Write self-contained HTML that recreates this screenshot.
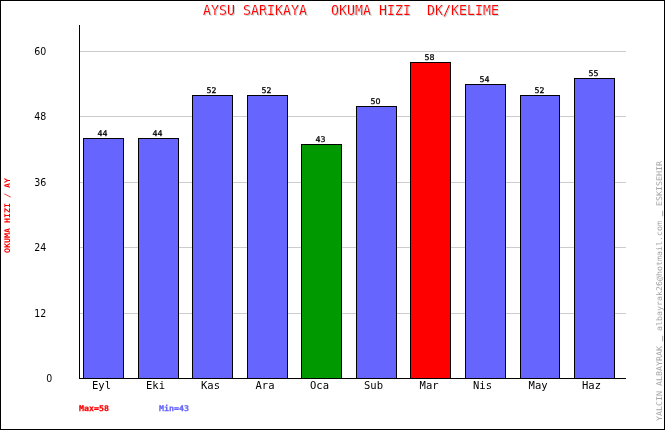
<!DOCTYPE html>
<html lang="tr"><head><meta charset="utf-8"><title>AYSU SARIKAYA OKUMA HIZI DK/KELIME</title>
<style>
html,body{margin:0;padding:0;background:#fff;overflow:hidden}
svg{display:block}
text{font-family:"DejaVu Sans Mono","Liberation Mono",monospace;white-space:pre}
.t2{font-size:13.3px}
.t1{font-size:11px}
.t0{font-size:7.8px}
.d1{font-family:"DejaVu Sans","Liberation Sans",sans-serif;font-size:11px}
.d0{font-family:"DejaVu Sans","Liberation Sans",sans-serif;font-size:7.8px}
</style></head><body>
<svg width="665" height="430" viewBox="0 0 665 430">
<defs><filter id="sh" x="-5%" y="-50%" width="110%" height="200%"><feOffset in="SourceAlpha" dx="1" dy="1" result="o"/><feFlood flood-color="#c4dada"/><feComposite operator="in" in2="o" result="s"/><feMerge><feMergeNode in="s"/><feMergeNode in="SourceGraphic"/></feMerge></filter></defs>
<rect x="0" y="0" width="665" height="430" fill="#fff"/>
<g shape-rendering="crispEdges">
<rect x="0.5" y="0.5" width="664" height="429" fill="none" stroke="#000" stroke-width="1"/>
<rect x="80" y="313" width="546" height="1" fill="#cccccc"/>
<rect x="80" y="247" width="546" height="1" fill="#cccccc"/>
<rect x="80" y="182" width="546" height="1" fill="#cccccc"/>
<rect x="80" y="116" width="546" height="1" fill="#cccccc"/>
<rect x="80" y="51" width="546" height="1" fill="#cccccc"/>
<rect x="83.5" y="138.5" width="40" height="240" fill="#6666ff" stroke="#000" stroke-width="1"/>
<rect x="138.5" y="138.5" width="40" height="240" fill="#6666ff" stroke="#000" stroke-width="1"/>
<rect x="192.5" y="95.5" width="40" height="283" fill="#6666ff" stroke="#000" stroke-width="1"/>
<rect x="247.5" y="95.5" width="40" height="283" fill="#6666ff" stroke="#000" stroke-width="1"/>
<rect x="301.5" y="144.5" width="40" height="234" fill="#009900" stroke="#000" stroke-width="1"/>
<rect x="356.5" y="106.5" width="40" height="272" fill="#6666ff" stroke="#000" stroke-width="1"/>
<rect x="410.5" y="62.5" width="40" height="316" fill="#ff0000" stroke="#000" stroke-width="1"/>
<rect x="465.5" y="84.5" width="40" height="294" fill="#6666ff" stroke="#000" stroke-width="1"/>
<rect x="520.5" y="95.5" width="39" height="283" fill="#6666ff" stroke="#000" stroke-width="1"/>
<rect x="574.5" y="78.5" width="40" height="300" fill="#6666ff" stroke="#000" stroke-width="1"/>
<rect x="79" y="25" width="1" height="354" fill="#000"/>
<rect x="79" y="378" width="547" height="1" fill="#000"/>
</g>
<text class="t2" x="203" y="15" textLength="296" lengthAdjust="spacingAndGlyphs" fill="#ff0000" xml:space="preserve" filter="url(#sh)">AYSU SARIKAYA   OKUMA HIZI  DK/KELIME</text>
<text class="d1" x="34.3" y="317" textLength="12" lengthAdjust="spacingAndGlyphs" fill="#000">12</text>
<text class="d1" x="34.3" y="251" textLength="12" lengthAdjust="spacingAndGlyphs" fill="#000">24</text>
<text class="d1" x="34.3" y="186" textLength="12" lengthAdjust="spacingAndGlyphs" fill="#000">36</text>
<text class="d1" x="34.3" y="120" textLength="12" lengthAdjust="spacingAndGlyphs" fill="#000">48</text>
<text class="d1" x="34.3" y="55" textLength="12" lengthAdjust="spacingAndGlyphs" fill="#000">60</text>
<text class="d1" x="46.3" y="382" textLength="6" lengthAdjust="spacingAndGlyphs" fill="#000">0</text>
<text class="t1" x="92" y="389" textLength="19" lengthAdjust="spacingAndGlyphs" fill="#000">Eyl</text>
<text class="d0" x="97.5" y="136" textLength="10" lengthAdjust="spacingAndGlyphs" fill="#000" stroke="#000" stroke-width="0.3">44</text>
<text class="t1" x="146" y="389" textLength="19" lengthAdjust="spacingAndGlyphs" fill="#000">Eki</text>
<text class="d0" x="152.5" y="136" textLength="10" lengthAdjust="spacingAndGlyphs" fill="#000" stroke="#000" stroke-width="0.3">44</text>
<text class="t1" x="201" y="389" textLength="19" lengthAdjust="spacingAndGlyphs" fill="#000">Kas</text>
<text class="d0" x="206.5" y="93" textLength="10" lengthAdjust="spacingAndGlyphs" fill="#000" stroke="#000" stroke-width="0.3">52</text>
<text class="t1" x="255.5" y="389" textLength="19" lengthAdjust="spacingAndGlyphs" fill="#000">Ara</text>
<text class="d0" x="261.5" y="93" textLength="10" lengthAdjust="spacingAndGlyphs" fill="#000" stroke="#000" stroke-width="0.3">52</text>
<text class="t1" x="310" y="389" textLength="19" lengthAdjust="spacingAndGlyphs" fill="#000">Oca</text>
<text class="d0" x="315.5" y="142" textLength="10" lengthAdjust="spacingAndGlyphs" fill="#000" stroke="#000" stroke-width="0.3">43</text>
<text class="t1" x="364" y="389" textLength="19" lengthAdjust="spacingAndGlyphs" fill="#000">Sub</text>
<text class="d0" x="370.5" y="104" textLength="10" lengthAdjust="spacingAndGlyphs" fill="#000" stroke="#000" stroke-width="0.3">50</text>
<text class="t1" x="419.6" y="389" textLength="19" lengthAdjust="spacingAndGlyphs" fill="#000">Mar</text>
<text class="d0" x="424.5" y="60" textLength="10" lengthAdjust="spacingAndGlyphs" fill="#000" stroke="#000" stroke-width="0.3">58</text>
<text class="t1" x="473" y="389" textLength="19" lengthAdjust="spacingAndGlyphs" fill="#000">Nis</text>
<text class="d0" x="479.5" y="82" textLength="10" lengthAdjust="spacingAndGlyphs" fill="#000" stroke="#000" stroke-width="0.3">54</text>
<text class="t1" x="528.6" y="389" textLength="19" lengthAdjust="spacingAndGlyphs" fill="#000">May</text>
<text class="d0" x="534.5" y="93" textLength="10" lengthAdjust="spacingAndGlyphs" fill="#000" stroke="#000" stroke-width="0.3">52</text>
<text class="t1" x="582" y="389" textLength="19" lengthAdjust="spacingAndGlyphs" fill="#000">Haz</text>
<text class="d0" x="588.5" y="76" textLength="10" lengthAdjust="spacingAndGlyphs" fill="#000" stroke="#000" stroke-width="0.3">55</text>
<text class="t0" x="79" y="411" textLength="30" lengthAdjust="spacingAndGlyphs" fill="#ff0000" font-weight="bold" stroke="#ff0000" stroke-width="0.25">Max=58</text>
<text class="t0" x="159" y="411" textLength="30" lengthAdjust="spacingAndGlyphs" fill="#6666ff" font-weight="bold" stroke="#6666ff" stroke-width="0.25">Min=43</text>
<g transform="translate(10,253) rotate(-90)"><text class="t0" x="0" y="0" textLength="75" lengthAdjust="spacingAndGlyphs" fill="#ff0000" font-weight="bold">OKUMA HIZI / AY</text></g>
<g transform="translate(662,421) rotate(-90)"><text class="t0" x="0" y="0" textLength="75" lengthAdjust="spacingAndGlyphs" fill="#a4a4a4">YALCIN ALBAYRAK</text><text class="t0" x="80" y="-1.4" textLength="5" lengthAdjust="spacingAndGlyphs" fill="#a4a4a4" stroke="#a4a4a4" stroke-width="0.55">_</text><text class="t0" x="90" y="0" textLength="110" lengthAdjust="spacingAndGlyphs" fill="#a4a4a4">albayrak26@hotmail.com</text><text class="t0" x="205" y="-1.4" textLength="5" lengthAdjust="spacingAndGlyphs" fill="#a4a4a4" stroke="#a4a4a4" stroke-width="0.55">_</text><text class="t0" x="215" y="0" textLength="45" lengthAdjust="spacingAndGlyphs" fill="#a4a4a4">ESKISEHIR</text></g>
</svg>
</body></html>
